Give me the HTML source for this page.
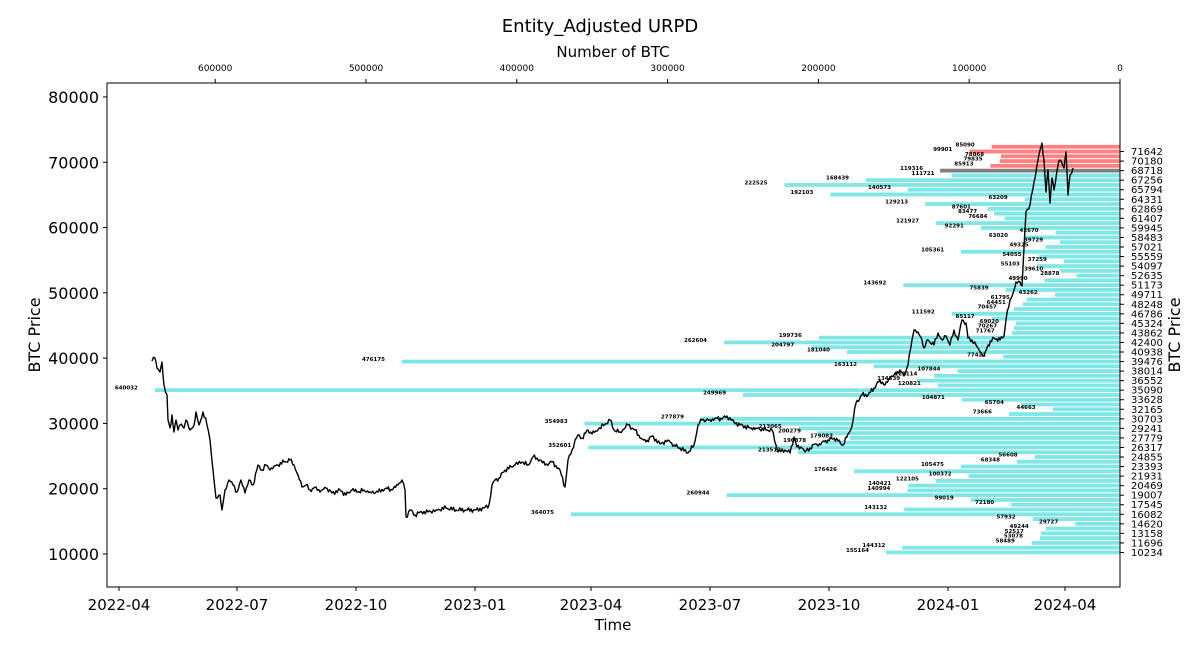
<!DOCTYPE html>
<html><head><meta charset="utf-8"><style>
body{margin:0;background:#fff;}
svg text{font-family:"DejaVu Sans","Liberation Sans",sans-serif;}
</style></head><body>
<svg id="s" width="1201" height="654" viewBox="0 0 1201 654" xmlns="http://www.w3.org/2000/svg">
<rect width="1201" height="654" fill="#fff"/>
<g id="bars"></g>
<g id="lbls" font-size="5.5" font-weight="bold" fill="#000" text-anchor="end"></g>
<polyline id="price" fill="none" stroke="#000" stroke-width="1.4" stroke-linejoin="round" points=""/>
<rect x="107" y="83" width="1013" height="504" fill="none" stroke="#000" stroke-width="1"/>
<text x="600" y="32" font-size="18" text-anchor="middle">Entity_Adjusted URPD</text>
<text x="613" y="57" font-size="15" text-anchor="middle">Number of BTC</text>
<g id="top" font-size="9" text-anchor="middle"></g>
<g id="left" font-size="16" text-anchor="end"></g>
<g id="right" font-size="10"></g>
<g id="bot" font-size="15" text-anchor="middle"></g>
<text x="613" y="630" font-size="15" text-anchor="middle">Time</text>
<text transform="translate(40,335) rotate(-90)" font-size="16" text-anchor="middle">BTC Price</text>
<text transform="translate(1180,335) rotate(-90)" font-size="16" text-anchor="middle">BTC Price</text>
</svg>
<script>
var NS="http://www.w3.org/2000/svg";
function el(p,t,a,txt){var e=document.createElementNS(NS,t);for(var k in a)e.setAttribute(k,a[k]);if(txt!==undefined)e.textContent=txt;document.getElementById(p).appendChild(e);return e;}
function Y(v){return 554-(v-10000)*0.006529;}
function X(n){return 1120-n*0.001508;}
var vals=[85090,99901,78868,79835,85913,119316,111721,168439,222525,140573,192103,63209,129213,87601,83477,76684,121927,92291,42670,63020,39729,49325,105361,54055,37259,55103,39610,28878,49990,143692,75839,43262,61795,64451,70457,111592,85117,69020,70267,71767,199736,262604,204797,181040,77421,476175,163112,107844,123114,134539,120821,640032,249969,104871,65704,44663,73666,277879,354983,213065,200279,179083,196878,352601,213513,56608,68348,105475,176426,100372,122105,140421,140994,260944,99019,72180,143132,364075,57932,29727,49244,52517,53078,58489,144312,155164];
for(var i=0;i<vals.length;i++){
 var p=72373-731*i, y=Y(p), n=vals[i], x=X(n);
 var c=i<5?"#ff8080":(i==5?"#808080":"#80e6e6");
 el("bars","rect",{x:x,y:y-1.9,width:1120-x,height:3.8,fill:c});
 el("lbls","text",{x:x-17,y:y-0.5},String(n));
}
[600000,500000,400000,300000,200000,100000,0].forEach(function(a){var x=X(a);
 el("top","line",{x1:x,x2:x,y1:83,y2:79,stroke:"#000"});el("top","text",{x:x,y:71},String(a));});
for(var v=10000;v<=80000;v+=10000){var y=Y(v);el("left","line",{x1:107,x2:103,y1:y,y2:y,stroke:"#000"});el("left","text",{x:99,y:y+6},String(v));}
var rl=[71642,70180,68718,67256,65794,64331,62869,61407,59945,58483,57021,55559,54097,52635,51173,49711,48248,46786,45324,43862,42400,40938,39476,38014,36552,35090,33628,32165,30703,29241,27779,26317,24855,23393,21931,20469,19007,17545,16082,14620,13158,11696,10234];
rl.forEach(function(v){var y=Y(v);
 el("right","line",{x1:1120,x2:1124,y1:y,y2:y,stroke:"#000"});el("right","text",{x:1131,y:y+3.5},String(v));});
var dl=[["2022-04",119],["2022-07",237],["2022-10",356],["2023-01",475],["2023-04",591],["2023-07",710],["2023-10",829],["2024-01",948],["2024-04",1065]];
dl.forEach(function(d){el("bot","line",{x1:d[1],x2:d[1],y1:587,y2:591,stroke:"#000"});el("bot","text",{x:d[1],y:610},d[0]);});
var pts=[152,361,155,358,157,368,160,372,162,362,164,385,167,395,168,420,170,428,172,415,174,432,176,420,178,430,180,425,184,428,186,420,190,430,194,425,196,412,199,425,203,412,207,425,210,440,213,470,216,498,220,495,222,510,225,490,229,480,233,485,237,492,241,480,245,493,249,480,253,485,258,465,262,470,266,465,270,470,274,466,278,465,284,462,290,460,294,465,298,475,302,487,306,485,310,490,316,487,320,492,326,488,332,493,340,490,346,495,352,490,358,492,364,490,370,492,378,492,386,488,392,490,398,485,402,480,405,490,406,517,410,510,415,515,420,512,428,512,436,510,446,508,456,510,466,510,476,510,484,508,489,505,492,485,495,480,499,478,505,470,515,465,522,462,528,465,533,457,540,460,545,465,552,462,560,470,565,487,568,460,572,450,575,440,578,435,582,438,588,430,592,434,598,430,605,424,610,420,614,430,620,432,628,425,635,430,640,438,646,442,652,436,660,444,668,440,674,445,680,448,688,453,694,445,698,425,702,420,710,420,716,418,722,419,727,416,734,422,740,425,750,428,756,428,766,430,772,430,776,445,778,452,785,450,790,453,794,437,797,447,802,448,805,452,810,448,815,444,818,446,822,442,828,440,834,438,838,441,843,445,848,434,852,426,856,403,862,395,868,395,874,388,880,380,885,385,890,378,894,375,900,370,904,376,908,365,912,340,914,330,918,332,922,340,924,348,928,340,934,345,938,333,942,340,946,336,950,345,954,330,958,340,962,320,966,323,968,338,972,340,976,345,980,352,984,356,988,345,994,338,1000,340,1004,336,1006,320,1010,300,1014,290,1016,282,1020,282,1022,286,1026,212,1030,205,1034,182,1038,160,1040,150,1042,143,1044,160,1046,192,1048,170,1050,203,1052,178,1054,190,1058,165,1060,160,1064,168,1066,152,1068,195,1070,175,1073,168];
var s="",k=0;
for(var i=0;i<pts.length-2;i+=2){
 var x0=pts[i],y0=pts[i+1],x1=pts[i+2],y1=pts[i+3];
 var steps=Math.max(1,Math.round((x1-x0)/1.3));
 for(var j=0;j<steps;j++){k++;var t=j/steps;var nx=x0+(x1-x0)*t,ny=y0+(y1-y0)*t;
  if(j>0)ny+=1.6*Math.sin(k*2.7)+1.0*Math.sin(k*5.3);
  s+=nx.toFixed(1)+","+ny.toFixed(1)+" ";}
}
s+=pts[pts.length-2]+","+pts[pts.length-1];
document.getElementById("price").setAttribute("points",s);
</script>
</body></html>
